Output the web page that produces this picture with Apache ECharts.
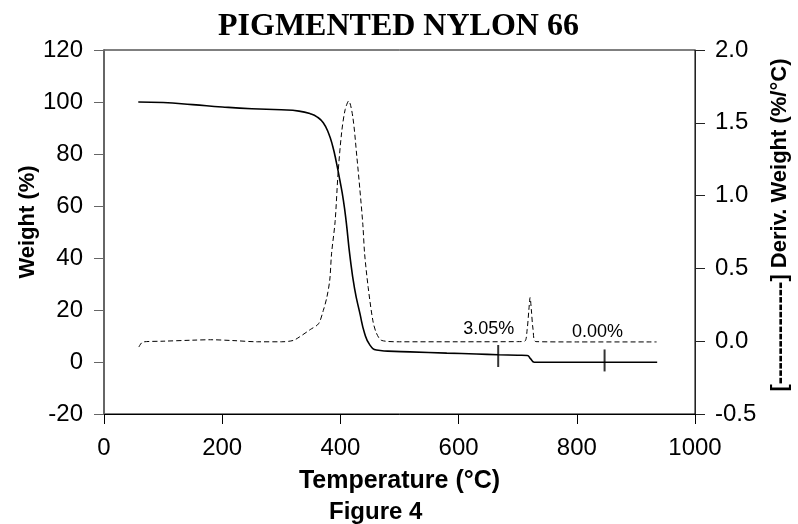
<!DOCTYPE html>
<html><head><meta charset="utf-8">
<script src="https://cdn.jsdelivr.net/npm/echarts@6/dist/echarts.min.js"></script>
<style>html,body{margin:0;padding:0;background:#fff}#c{width:798px;height:524px}</style>
</head><body><div id="c"></div>
<script>
// Weight (%) curve, solid line, left axis
var weightTemp = [58,100,150,200,250,300,330,349,361,371,380,387,393,399,405,410,416,424,433,441,450,461,480,518,580,630,667,700,716,722,728,760,847,936];
var weightVal  = [100,99.8,99.0,98.1,97.4,97.0,96.5,95.5,94.2,92.0,88.0,83.0,77,70,62.3,53.6,41,28.2,18.7,11,6.5,4.6,4.2,3.9,3.4,3.1,2.8,2.6,2.5,1.2,-0.1,-0.1,-0.1,-0.1];
// Derivative weight (%/°C), dashed line, right axis
var derivTemp = [59,66,100,150,180,220,260,300,320,331,349,363,371,377,382,385,391,396,402,408,414,421,428,433,438,441,447,455,461,470,500,600,700,712,716,719,721,723,726,731,800,935];
var derivVal  = [-0.04,-0.005,0.0,0.007,0.01,0.004,-0.004,-0.004,0.005,0.03,0.08,0.12,0.21,0.30,0.42,0.6,0.82,1.15,1.43,1.59,1.65,1.54,1.26,1.04,0.8,0.6,0.37,0.14,0.055,0.005,-0.004,-0.004,-0.003,0.0,0.08,0.22,0.30,0.22,0.08,-0.003,-0.005,-0.005];
// step markers on the weight curve
var markTemp = [667, 847];
var markVal  = [2.3, 0.6];
// annotation labels
var noteText = ['3.05%', '0.00%'];
var noteTemp = [651, 835];
var noteVal  = [12.7, 11.7];
var xTicks = {min:0, max:1000, interval:200};
var leftTicks = {min:-20, max:120, interval:20};
var rightTicks = {min:-0.5, max:2.0, interval:0.5};

function zip(a,b){return a.map(function(v,i){return [v,b[i]];});}

var chart = echarts.init(document.getElementById('c'), null, {renderer:'canvas'});
var sans = 'Liberation Sans, Arial, sans-serif';
chart.setOption({
  animation:false,
  backgroundColor:'#fff',
  title:{text:'PIGMENTED NYLON 66', left:213, top:6,
    textStyle:{fontFamily:'Liberation Serif, Times New Roman, serif', fontWeight:'bold', fontSize:32, color:'#000'}},
  graphic:[{type:'text', left:329, top:500, style:{text:'Figure 4', fontFamily:sans, fontWeight:'bold', fontSize:24, fill:'#000'}}],
  grid:{left:104, right:103, top:50, bottom:110, containLabel:false, outerBoundsMode:'none',
    show:true, borderColor:'#000', borderWidth:1, backgroundColor:'transparent'},
  xAxis:{type:'value', min:xTicks.min, max:xTicks.max, interval:xTicks.interval,
    name:'Temperature (°C)', nameLocation:'middle', nameGap:55,
    nameTextStyle:{fontFamily:sans, fontWeight:'bold', fontSize:25, color:'#000'},
    axisLine:{onZero:false, lineStyle:{color:'#000', width:1}}, axisTick:{length:10, lineStyle:{color:'#000'}},
    axisLabel:{fontFamily:sans, fontSize:24, color:'#000', margin:22, formatter:function(v){return String(v);}}, splitLine:{show:false}},
  yAxis:[
    {type:'value', position:'left', min:leftTicks.min, max:leftTicks.max, interval:leftTicks.interval,
     name:'Weight (%)', nameLocation:'middle', nameRotate:90, nameGap:65, nameMoveOverlap:false,
     nameTextStyle:{fontFamily:sans, fontWeight:'bold', fontSize:22, color:'#000', padding:[0,0,0,20]},
     axisLine:{show:true, onZero:false, lineStyle:{color:'#666', width:2}}, axisTick:{show:true, length:10, lineStyle:{color:'#666'}},
     axisLabel:{fontFamily:sans, fontSize:24, color:'#000', margin:21}, splitLine:{show:false}},
    {type:'value', position:'right', min:rightTicks.min, max:rightTicks.max, interval:rightTicks.interval,
     name:'[--------------] Deriv. Weight (%/°C)', nameLocation:'middle', nameRotate:90, nameGap:74, nameMoveOverlap:false,
     nameTextStyle:{fontFamily:sans, fontWeight:'bold', fontSize:22, color:'#000', padding:[0,0,0,14]},
     axisLine:{show:true, onZero:false, lineStyle:{color:'#222', width:1}}, axisTick:{show:true, length:10, lineStyle:{color:'#222'}},
     axisLabel:{fontFamily:sans, fontSize:24, color:'#000', margin:20, formatter:function(v){return v.toFixed(1);}}, splitLine:{show:false}}
  ],
  series:[
    {type:'line', yAxisIndex:0, data:zip(weightTemp, weightVal), showSymbol:false, smooth:0.5,
     lineStyle:{color:'#000', width:1.6},
     markPoint:{symbol:'circle', symbolSize:0, silent:true,
       data:noteTemp.map(function(t,i){return {coord:[t,noteVal[i]], value:noteText[i]};}),
       label:{show:true, position:'inside', formatter:'{c}', fontFamily:sans, fontSize:18, color:'#000'}}},
    {type:'line', yAxisIndex:1, data:zip(derivTemp, derivVal), showSymbol:false, smooth:0.3,
     lineStyle:{color:'#000', width:1, type:[5,3]}},
    {type:'scatter', yAxisIndex:0, data:zip(markTemp, markVal), symbol:'rect', symbolSize:[2,22],
     itemStyle:{color:'#000'}}
  ]
});
</script></body></html>
